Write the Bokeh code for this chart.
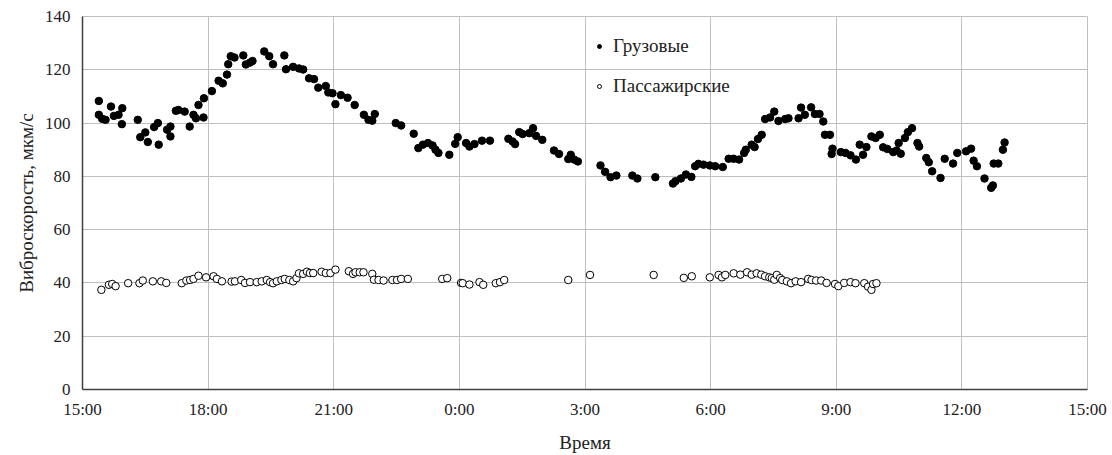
from bokeh.plotting import figure
from bokeh.models import FixedTicker, Legend, LegendItem, ColumnDataSource
from bokeh.embed import file_html
from bokeh.resources import INLINE

# hours after 15:00
freight_h = [0.39,0.39,0.47,0.55,0.68,0.75,0.86,0.95,0.94,1.32,1.38,1.50,1.56,1.71,1.80,1.82,2.02,2.10,2.10,2.23,2.29,2.44,2.56,2.65,2.71,2.77,2.89,2.90,3.09,3.25,3.35,3.45,3.48,3.54,3.63,3.84,3.90,4.00,4.06,4.34,4.46,4.55,4.82,4.86,5.03,5.17,5.27,5.41,5.53,5.63,5.81,5.87,5.97,6.04,6.17,6.33,6.50,6.72,6.83,6.92,6.98,7.48,7.61,7.91,8.02,8.13,8.25,8.36,8.43,8.50,8.76,8.90,8.96,9.16,9.24,9.36,9.54,9.73,10.17,10.27,10.33,10.43,10.51,10.67,10.76,10.83,10.98,11.26,11.38,11.60,11.66,11.74,11.83,12.37,12.48,12.61,12.75,13.13,13.25,13.68,14.10,14.16,14.29,14.41,14.54,14.63,14.71,14.83,14.98,15.11,15.29,15.43,15.55,15.68,15.80,15.84,15.98,16.05,16.13,16.22,16.30,16.42,16.52,16.62,16.78,16.86,17.10,17.16,17.25,17.40,17.49,17.60,17.69,17.73,17.85,17.89,17.91,18.11,18.22,18.34,18.47,18.56,18.64,18.72,18.84,18.94,19.04,19.12,19.22,19.36,19.44,19.49,19.54,19.64,19.71,19.81,19.94,19.98,20.15,20.21,20.29,20.49,20.59,20.79,20.89,21.10,21.22,21.28,21.36,21.54,21.70,21.74,21.76,21.87,21.98,22.02]
freight_v = [108.3,103.1,101.6,101.2,106.2,102.7,103.1,105.6,99.6,101.2,94.7,96.5,92.9,98.5,100.0,91.9,97.5,98.7,95.0,104.6,104.9,104.3,98.7,103.1,101.8,106.8,102.1,109.3,112.0,115.9,114.9,118.2,122.1,125.1,124.6,125.4,122.0,122.7,123.3,126.9,125.1,122.1,125.4,120.2,121.1,120.5,120.1,116.8,116.5,113.3,113.9,111.5,111.2,107.1,110.5,109.5,106.8,103.1,101.2,100.9,103.4,100.0,99.1,96.0,90.6,91.9,92.5,91.6,90.0,88.8,88.1,92.2,94.7,92.5,91.2,92.1,93.4,93.4,94.1,93.1,92.1,96.6,95.9,96.2,98.1,95.2,93.7,89.7,88.4,86.5,88.1,86.3,85.6,84.1,81.7,79.7,80.3,80.3,79.2,79.7,77.3,78.2,79.2,80.7,79.8,83.8,84.7,84.4,84.1,83.8,83.5,86.6,86.6,86.3,88.8,90.0,91.9,91.0,94.0,95.6,101.5,102.1,104.3,100.8,101.5,101.8,101.8,105.8,103.1,105.9,103.4,103.4,100.6,95.6,95.6,88.4,90.4,89.1,88.8,87.9,86.3,91.9,88.1,91.0,95.0,94.4,95.6,90.9,90.3,89.1,89.7,92.5,88.5,94.4,96.6,98.1,92.5,91.2,86.9,85.3,81.9,79.4,86.6,84.8,88.8,89.4,90.4,85.9,83.8,79.2,75.7,76.6,84.8,84.8,90.0,92.7]

pass_h = [0.45,0.63,0.71,0.79,1.09,1.36,1.44,1.68,1.88,2.00,2.37,2.48,2.57,2.65,2.77,2.95,3.13,3.21,3.33,3.56,3.64,3.79,3.88,4.00,4.16,4.28,4.40,4.48,4.55,4.64,4.75,4.83,4.94,5.03,5.11,5.17,5.27,5.36,5.43,5.51,5.71,5.81,5.92,6.04,6.36,6.46,6.52,6.62,6.71,6.92,6.96,7.07,7.19,7.40,7.51,7.61,7.77,8.59,8.71,9.04,9.08,9.24,9.48,9.57,9.87,9.97,10.07,11.60,12.12,13.64,14.36,14.55,14.98,15.19,15.27,15.35,15.55,15.71,15.87,15.98,16.10,16.21,16.30,16.40,16.46,16.52,16.58,16.66,16.71,16.82,16.92,17.03,17.16,17.33,17.41,17.52,17.64,17.77,17.97,18.05,18.19,18.34,18.46,18.67,18.76,18.84,18.88,18.96]
pass_v = [37.4,39.3,39.6,38.8,39.9,39.9,40.9,40.6,40.6,40.0,39.9,40.9,41.1,41.5,42.7,42.1,42.5,41.5,40.6,40.5,40.6,41.1,40.0,40.3,40.3,40.6,41.1,40.3,39.9,40.6,41.1,41.5,41.1,40.6,41.8,43.6,43.4,44.2,43.7,43.7,44.2,43.7,43.7,45.0,44.4,43.4,44.0,44.0,44.0,43.4,41.2,41.1,40.9,41.1,41.1,41.5,41.5,41.5,41.8,40.0,39.9,39.4,40.3,39.3,39.9,40.3,41.1,41.1,43.0,43.0,41.9,42.5,42.1,43.0,42.1,43.0,43.6,43.1,44.0,43.1,43.6,43.1,42.5,42.1,41.8,41.2,43.0,41.8,41.1,40.6,39.9,40.6,40.3,41.5,41.1,40.9,40.9,40.0,39.6,38.8,40.0,40.3,39.9,39.9,38.6,37.4,39.6,39.9]

x_ticks = [0, 3, 6, 9, 12, 15, 18, 21, 24]
x_tick_labels = ["15:00", "18:00", "21:00", "0:00", "3:00", "6:00", "9:00", "12:00", "15:00"]
y_ticks = [0, 20, 40, 60, 80, 100, 120, 140]
series_names = ["Грузовые", "Пассажирские"]

FONT = "Liberation Serif"

p = figure(width=1112, height=455, output_backend="svg", toolbar_location=None,
           x_range=(0, 24), y_range=(0, 140),
           min_border_left=82, min_border_right=25, min_border_top=16, min_border_bottom=64)
p.outline_line_color = "#bfbfbf"

src_f = ColumnDataSource(dict(x=freight_h, y=freight_v))
src_p = ColumnDataSource(dict(x=pass_h, y=pass_v))
r1 = p.scatter("x", "y", source=src_f, size=7.5, fill_color="black", line_color="black")
r2 = p.scatter("x", "y", source=src_p, size=7.5, fill_color="white", line_color="black", line_width=1)

p.xaxis.ticker = FixedTicker(ticks=x_ticks)
p.xaxis.major_label_overrides = {t: l for t, l in zip(x_ticks, x_tick_labels)}
p.yaxis.ticker = FixedTicker(ticks=y_ticks)
for ax in (p.xaxis[0], p.yaxis[0]):
    ax.axis_line_color = "#404040"
    ax.axis_line_width = 1.5
    ax.major_tick_out = 0
    ax.major_tick_in = 0
    ax.minor_tick_out = 0
    ax.minor_tick_in = 0
    ax.major_label_text_font = FONT
    ax.major_label_text_font_size = "17px"
    ax.major_label_text_color = "#222222"
    ax.axis_label_text_font = FONT
    ax.axis_label_text_font_size = "19px"
    ax.axis_label_text_font_style = "normal"
    ax.axis_label_text_color = "#222222"
p.xaxis.major_label_standoff = 10
p.yaxis.major_label_standoff = 12
p.xaxis.axis_label = "Время"
p.yaxis.axis_label = "Виброскорость, мкм/с"
p.xaxis.axis_label_standoff = 10
p.yaxis.axis_label_standoff = 5

p.xgrid.ticker = FixedTicker(ticks=x_ticks)
p.ygrid.ticker = FixedTicker(ticks=y_ticks)
for g in (p.xgrid[0], p.ygrid[0]):
    g.grid_line_color = "#bfbfbf"
    g.grid_line_width = 1

legend = Legend(items=[LegendItem(label=series_names[0], renderers=[r1]),
                       LegendItem(label=series_names[1], renderers=[r2])],
                location=(512, 292), orientation="vertical")
legend.border_line_color = None
legend.background_fill_alpha = 0
legend.padding = 0
legend.margin = 0
legend.spacing = 18
legend.glyph_width = 10
legend.glyph_height = 20
legend.label_height = 20
legend.label_standoff = 9
legend.label_text_font = FONT
legend.label_text_font_size = "19px"
legend.label_text_color = "#222222"
p.add_layout(legend)

open("out.html", "w").write(file_html(p, INLINE))
